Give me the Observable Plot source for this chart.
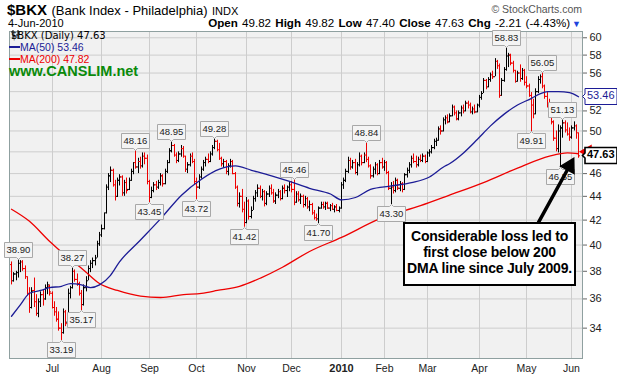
<!DOCTYPE html>
<html><head><meta charset="utf-8">
<script src="https://cdn.jsdelivr.net/npm/d3@7"></script>
<script src="https://cdn.jsdelivr.net/npm/@observablehq/plot@0.6"></script>
<style>
body{margin:0;background:#fff;}
#wrap{position:relative;width:617px;height:380px;overflow:hidden;font-family:"Liberation Sans",Arial,sans-serif;color:#000;}
#wrap svg{position:absolute;left:0;top:0;}
.ov{position:absolute;white-space:nowrap;}
g[aria-label="tip"] path{filter:none !important;}
</style></head><body><div id="wrap"></div>
<script>
// ---- data, one value per trading day, 5-Jun-2009 .. 4-Jun-2010 ----
const open = [38.5,37.3,37.8,37.9,38.6,38.7,38.2,37.6,36.4,35.4,36.6,35.8,35.0,35.8,36.3,36.0,36.8,36.9,36.4,35.4,35.1,34.6,34.0,33.7,35.1,34.4,36.4,36.8,38.0,37.4,37.1,36.4,35.6,36.8,37.3,38.2,38.6,38.8,39.0,40.1,40.8,41.3,42.6,44.8,45.8,46.3,45.0,44.0,45.4,45.7,44.3,45.2,44.6,45.4,46.2,47.0,46.6,47.1,46.7,47.6,47.4,45.3,43.9,44.5,45.0,44.8,45.2,45.8,45.1,46.2,47.0,48.1,48.6,47.7,47.2,47.8,48.3,47.6,46.4,46.8,47.6,47.1,45.3,44.8,45.7,46.4,47.0,47.3,47.1,47.8,48.4,49.0,48.2,47.4,46.9,47.1,46.2,46.7,47.1,46.0,44.8,43.4,44.0,42.9,41.8,43.6,42.3,42.8,43.8,44.3,44.7,44.0,44.4,43.4,44.2,44.7,44.3,43.6,44.1,44.4,43.8,44.7,44.5,44.8,45.0,44.6,43.5,44.2,43.7,44.0,43.3,43.8,43.1,43.3,42.6,42.2,42.1,43.0,43.3,43.1,43.4,43.0,43.2,42.9,43.1,42.8,43.0,45.0,45.4,46.2,47.2,46.6,47.0,46.1,46.8,47.6,47.0,47.7,47.3,46.7,45.8,46.4,46.8,46.0,47.0,46.6,47.0,46.1,44.7,44.8,44.5,45.4,44.7,45.1,44.6,45.9,46.3,46.8,47.4,47.1,46.8,47.3,47.2,47.6,47.1,47.9,48.0,48.4,49.0,49.1,50.2,50.0,51.1,51.3,50.9,51.5,52.4,51.8,51.2,51.8,52.3,52.0,52.8,52.6,51.9,52.2,51.9,52.6,53.4,53.8,55.2,54.5,55.3,55.8,55.6,57.3,56.8,53.6,55.2,56.4,57.9,58.0,57.1,56.3,55.1,56.0,55.4,56.3,55.0,54.6,53.6,52.6,51.7,54.0,55.3,55.6,54.6,53.5,52.6,51.8,50.9,49.3,48.3,50.0,50.3,50.8,50.1,49.7,49.4,50.3,50.5,49.82];
const high = [38.7,37.9,38.0,38.9,38.8,38.8,38.4,37.6,36.8,36.8,37.5,36.3,36.0,36.5,36.6,37.0,37.2,37.0,36.5,35.8,35.4,35.1,34.3,35.3,35.2,36.7,36.9,38.27,38.1,37.8,37.2,36.6,37.0,37.6,38.4,38.8,39.0,39.2,40.3,41.0,41.6,42.6,45.0,46.0,46.6,46.4,45.4,45.6,45.9,45.8,45.4,45.6,45.6,46.4,47.0,48.16,47.4,47.5,47.9,47.9,47.7,45.4,44.8,45.2,45.3,45.4,46.0,45.9,46.4,47.2,48.3,48.95,48.7,47.9,48.0,48.6,48.5,47.6,47.0,47.8,47.9,47.3,45.6,45.9,46.6,47.2,47.5,47.8,48.0,48.6,49.28,49.1,48.8,47.5,47.3,47.2,46.9,47.3,47.2,46.1,44.9,44.3,44.6,43.5,43.9,43.7,43.1,44.0,44.5,45.0,44.9,44.6,44.5,44.4,44.9,45.0,44.6,44.3,44.6,44.5,44.9,45.0,44.9,45.2,45.3,45.46,44.4,44.4,44.2,44.1,44.0,43.9,43.6,43.4,42.8,42.5,43.1,43.5,43.5,43.5,43.5,43.3,43.4,43.2,43.3,43.1,45.2,45.6,46.4,47.5,47.4,47.2,47.3,47.0,47.9,47.7,47.9,48.84,47.5,46.8,46.6,47.0,46.9,47.2,47.4,47.2,47.1,46.2,45.2,45.3,45.6,45.5,45.3,45.2,46.0,46.5,47.0,47.6,47.8,47.6,47.5,47.7,47.8,47.7,48.0,48.2,48.6,49.2,49.3,50.4,50.5,51.3,51.5,51.6,51.7,52.6,52.5,52.0,52.0,52.5,52.6,53.0,53.0,52.8,52.4,52.6,52.7,53.6,54.0,55.4,55.3,55.5,56.0,56.2,57.6,57.4,57.0,55.4,56.6,58.83,58.2,58.1,57.3,56.3,56.2,56.9,56.5,56.4,55.6,54.8,53.9,53.2,54.3,55.6,55.8,56.05,54.7,53.9,53.2,52.2,51.0,50.0,50.6,50.5,51.13,51.0,50.8,50.3,50.5,50.9,50.6,49.82];
const low = [37.0,37.2,37.3,37.5,37.9,38.0,37.4,36.2,35.0,35.3,35.4,34.8,34.7,35.4,35.5,35.9,36.3,36.2,35.3,34.8,34.4,33.8,33.19,33.6,34.1,34.3,36.0,36.7,37.2,36.9,36.2,35.17,35.5,36.5,37.3,37.9,38.2,38.4,39.0,39.9,40.6,41.2,42.5,44.5,45.2,44.8,43.6,43.9,44.9,44.0,44.0,44.2,44.5,45.3,45.9,46.4,46.0,46.4,46.5,46.8,45.0,43.45,43.8,44.3,44.5,44.6,44.9,44.8,45.0,46.0,46.9,47.9,47.5,46.9,47.0,47.5,47.4,46.1,46.0,46.6,46.9,45.0,43.72,44.6,45.5,46.2,46.6,46.9,47.0,47.6,48.2,48.0,47.2,46.6,46.5,45.9,45.8,46.5,45.9,44.6,43.1,43.0,42.6,41.42,41.7,42.0,42.1,42.8,43.5,43.9,43.8,43.6,43.1,43.2,43.9,44.1,43.4,43.3,43.8,43.6,43.7,44.2,43.9,44.4,44.3,43.2,43.4,43.5,43.3,43.0,43.1,42.9,42.7,42.4,42.0,41.9,41.70,42.9,42.9,42.8,42.9,42.7,42.8,42.6,42.7,42.6,42.9,44.6,45.2,46.0,46.3,46.4,45.9,45.8,46.6,46.7,46.9,47.0,46.5,45.5,45.6,45.9,45.8,45.9,46.4,46.2,45.9,44.5,43.30,44.2,44.3,44.5,44.4,44.3,44.5,45.6,46.0,46.5,46.9,46.5,46.6,47.0,47.0,46.9,47.0,47.5,47.8,48.2,48.5,49.0,49.6,49.9,50.6,50.7,50.8,51.4,51.5,51.0,51.0,51.4,51.7,51.9,52.2,51.7,51.6,51.7,51.8,52.3,53.1,53.8,54.2,54.4,55.0,55.3,55.6,56.4,53.3,53.5,55.0,56.2,56.6,56.8,56.0,54.9,55.0,55.0,55.2,54.6,54.3,53.4,49.91,51.2,51.6,53.8,54.8,54.3,53.2,52.3,51.5,50.6,49.0,48.0,47.9,46.55,49.3,49.8,49.5,49.0,49.2,50.0,49.2,47.40];
const close = [37.3,37.8,37.9,38.6,38.7,38.2,37.6,36.4,35.4,36.5,35.7,35.0,35.8,36.3,35.9,36.8,37.0,36.5,35.5,35.2,34.6,34.0,33.6,35.1,34.3,36.5,36.7,38.0,37.4,37.1,36.5,35.6,36.8,37.3,38.2,38.6,38.8,39.0,40.1,40.8,41.3,42.4,44.8,45.8,46.3,45.0,44.0,45.4,45.7,44.3,45.2,44.5,45.4,46.2,46.8,46.6,47.1,46.7,47.6,47.4,45.3,43.9,44.5,45.0,44.8,45.2,45.8,45.1,46.2,47.0,48.1,48.6,47.7,47.2,47.8,48.3,47.6,46.4,46.8,47.6,47.1,45.3,44.8,45.7,46.4,47.0,47.3,47.1,47.8,48.4,49.0,48.2,47.4,46.9,47.1,46.2,46.7,47.1,46.0,44.8,43.4,44.0,42.9,41.8,43.6,42.3,42.8,43.8,44.3,44.7,44.0,44.4,43.4,44.2,44.7,44.3,43.6,44.1,44.4,43.8,44.7,44.5,44.8,45.0,44.6,43.5,44.2,43.7,44.0,43.3,43.8,43.1,43.3,42.6,42.2,42.1,43.0,43.3,43.1,43.4,43.0,43.2,42.9,43.1,42.8,42.9,45.0,45.4,46.2,47.2,46.6,47.0,46.1,46.8,47.6,47.0,47.7,47.3,46.7,45.8,46.4,46.8,46.0,47.0,46.6,47.0,46.1,44.7,44.8,44.5,45.4,44.7,45.1,44.6,45.9,46.3,46.8,47.4,47.1,46.8,47.3,47.2,47.6,47.1,47.9,48.0,48.4,49.0,49.1,50.2,50.0,51.1,51.3,50.9,51.5,52.4,51.8,51.2,51.8,52.3,52.0,52.8,52.6,51.9,52.2,51.9,52.6,53.4,53.8,55.2,54.5,55.3,55.8,55.6,57.3,56.8,53.6,55.2,56.4,57.9,58.0,57.1,56.3,55.1,56.0,55.4,56.3,54.8,54.6,53.6,52.6,51.7,54.0,55.3,55.6,54.6,53.5,52.6,51.8,50.9,49.3,48.3,50.2,50.3,50.8,50.1,49.7,49.4,50.3,50.6,49.84,47.63];

const ma50Idx = [0,4,8,13,17,22,26,31,35,39,44,48,57,66,75,84,92,99,106,115,123,132,141,146,152,159,168,177,185,191,194,200,206,212,218,224,230,234,237,242,247,251];
const ma50Val = [34.8,35.6,36.4,36.6,36.8,36.9,37.1,37.0,36.8,37.0,37.7,38.7,40.4,42.1,44.1,45.5,46.4,46.7,46.3,45.8,45.3,44.7,44.2,43.7,43.9,44.6,44.9,45.2,45.7,46.6,46.9,47.9,49.2,50.5,51.7,52.6,53.3,53.8,54.0,54.0,53.9,53.46];
const ma200Idx = [0,8,17,25,32,39,47,57,66,76,84,91,101,110,120,132,146,163,181,194,209,224,238,246,251];
const ma200Val = [42.9,41.9,40.3,39.0,38.1,37.1,36.6,36.2,36.1,36.3,36.4,36.6,36.9,37.5,38.3,39.5,40.6,42.1,43.2,44.1,45.2,46.5,47.6,47.9,47.82];

// x-axis: first trading day of each month, and its label
const monthStart = [18,40,61,82,104,124,146,165,184,207,228,248];
const monthLabel = ["Jul","Aug","Sep","Oct","Nov","Dec","2010","Feb","Mar","Apr","May","Jun"];
const yGrid = [34,36,38,40,42,44,46,48,50,52,54,56,58,60];
const yLabels = [34,36,38,40,42,44,46,50,52,56,58,60]; // 48 and 54 sit under the last-value boxes

// labelled highs and lows
const highIdx = [3,27,55,71,90,125,157,219,235,244];
const lowIdx = [22,31,61,82,103,136,168,230,243];

// annotation
const noteLines = ["Considerable loss led to","first close below 200","DMA line since July 2009."];
const arrowIdx = [233.2, 246.8];
const arrowVal = [41.81, 46.69];

const lastMA50 = 53.46, lastMA200 = 47.82, prevClose = 49.84;

// ---- build ----
const bars = open.map((o, i) => ({i, open: o, high: high[i], low: low[i], close: close[i],
  up: i === 0 ? close[i] >= o : close[i] >= close[i - 1]}));
const upBars = bars.filter(d => d.up), dnBars = bars.filter(d => !d.up);
const ma50 = ma50Idx.map((i, k) => ({i, v: ma50Val[k]}));
const ma200 = ma200Idx.map((i, k) => ({i, v: ma200Val[k]}));
const highs = highIdx.map(i => ({i, v: high[i]}));
const lows = lowIdx.map(i => ({i, v: low[i]}));
const xMax = 252.65;
const last = bars[bars.length - 1];
const BLK = "#000", RED = "#ee0000", NAVY = "#1c1c96";

function ohlc(data, color) {
  return [
    Plot.ruleX(data, {x: "i", y1: "low", y2: "high", stroke: color, strokeWidth: 1}),
    Plot.ruleY(data, {y: "open", x1: d => d.i - 0.6, x2: "i", stroke: color, strokeWidth: 1}),
    Plot.ruleY(data, {y: "close", x1: "i", x2: d => d.i + 0.6, stroke: color, strokeWidth: 1})
  ];
}

const chart = Plot.plot({
  width: 617, height: 380,
  marginTop: 31, marginRight: 35, marginBottom: 22, marginLeft: 9,
  style: {fontFamily: "Liberation Sans, Arial, sans-serif", fontSize: "11px", color: "#222", background: "transparent"},
  x: {domain: [-0.885, xMax], round: true, axis: null},
  y: {type: "log", domain: [32.04, 60.74], axis: null},
  marks: [
    Plot.frame({fill: "#f1f1f1", stroke: null}),
    Plot.ruleX(monthStart, {stroke: "#cdcdcd", strokeWidth: 1}),
    Plot.ruleY(yGrid, {stroke: "#cdcdcd", strokeWidth: 1}),
    ...ohlc(upBars, BLK),
    ...ohlc(dnBars, RED),
    Plot.line(ma200, {x: "i", y: "v", stroke: RED, strokeWidth: 1.3, curve: "monotone-x"}),
    Plot.line(ma50, {x: "i", y: "v", stroke: NAVY, strokeWidth: 1.3, curve: "monotone-x"}),
    Plot.frame({stroke: "#8fa0a0", strokeWidth: 1}),
    Plot.axisY({ticks: yLabels, anchor: "right", tickSize: 4, tickPadding: 3, fontSize: 11, tickFormat: d => String(d), label: null, stroke: "#666"}),
    Plot.axisX({ticks: monthStart.filter((d, k) => monthLabel[k] !== "2010"), tickSize: 0, tickPadding: 6, fontSize: 10.5,
      tickFormat: d => monthLabel[monthStart.indexOf(d)], label: null}),
    Plot.axisX({ticks: monthStart.filter((d, k) => monthLabel[k] === "2010"), tickSize: 0, tickPadding: 6, fontSize: 11, fontWeight: "bold",
      tickFormat: d => monthLabel[monthStart.indexOf(d)], label: null}),
    Plot.tip(highs, {x: "i", y: "v", title: d => d.v.toFixed(2), anchor: "bottom", pointerSize: 4, textPadding: 2,
      fontSize: 9.5, fill: "#f4f4f4", stroke: "#a8a8a8", pathFilter: "none"}),
    Plot.tip(lows, {x: "i", y: "v", title: d => d.v.toFixed(2), anchor: "top", pointerSize: 4, textPadding: 2,
      fontSize: 9.5, fill: "#f4f4f4", stroke: "#a8a8a8", pathFilter: "none"}),
    Plot.line(arrowIdx.map((i, k) => ({i, v: arrowVal[k]})), {x: "i", y: "v", stroke: "#000", strokeWidth: 3.5}),
    Plot.dot([{i: arrowIdx[1], v: arrowVal[1]}], {x: "i", y: "v", symbol: "triangle", r: 5.6, fill: "#000", stroke: "#000", rotate: 29}),
    Plot.dot([{i: xMax, v: lastMA200}], {x: "i", y: "v", dx: 5, dy: -2, symbol: "triangle", r: 4.5, fill: RED, stroke: RED, rotate: -90}),
    Plot.tip([{i: xMax, v: lastMA50}], {x: "i", y: "v", title: d => d.v.toFixed(2), anchor: "left", pointerSize: 5, textPadding: 2,
      fontSize: 11, fill: "#fff", stroke: NAVY, pathFilter: "none"}),
    Plot.tip([{i: xMax, v: last.close}], {x: "i", y: "v", title: d => d.v.toFixed(2), anchor: "left", pointerSize: 5, textPadding: 2,
      fontSize: 11, fontWeight: "bold", fill: "#fff", stroke: "#000", strokeWidth: 1.6, pathFilter: "none"})
  ]
});

const wrap = document.getElementById("wrap");
wrap.appendChild(chart);
const tips = chart.querySelectorAll('g[aria-label="tip"]');
const tipSizes = ["9.5px", "9.5px", "11px", "11px"];
tips.forEach((g, k) => {
  g.querySelectorAll("text").forEach(t => {
    // flatten the single tspan into its text element so the label is a plain sized text
    const spans = t.querySelectorAll("tspan");
    if (spans.length === 1) {
      const s = spans[0];
      for (const a of ["x", "y", "dx", "dy"]) {
        const v = s.getAttribute(a);
        if (v != null && t.getAttribute(a) == null) t.setAttribute(a, v);
      }
      const txt = s.textContent;
      t.textContent = txt;
    }
    t.setAttribute("font-size", tipSizes[k] || "10px");
    t.setAttribute("font-family", "Liberation Sans, Arial, sans-serif");
  });
});
if (tips.length >= 4) {
  tips[0].style.color = "#222"; tips[1].style.color = "#222";
  tips[2].style.color = NAVY; tips[3].style.color = "#000";
}

// ---- header, legend and note (text overlays) ----
function ov(html, css) { const d = document.createElement("div"); d.className = "ov"; d.style.cssText = css; d.innerHTML = html; wrap.appendChild(d); return d; }
const chg = last.close - prevClose;
ov(`<b style="font-size:15px">$BKX</b> <span style="font-size:13px">(Bank Index - Philadelphia)</span> <span style="font-size:11px">INDX</span>`, "left:7px;top:1px;line-height:18px;");
ov(`4-Jun-2010`, "left:8px;top:17px;font-size:11px;line-height:13px;");
ov(`© StockCharts.com`, "right:35px;top:3px;font-size:10.5px;color:#555;line-height:12px;");
ov(`<b>Open</b> ${last.open.toFixed(2)} <b>High</b> ${last.high.toFixed(2)} <b>Low</b> ${last.low.toFixed(2)} <b>Close</b> ${last.close.toFixed(2)} <b>Chg</b> ${chg.toFixed(2)} (${(chg / prevClose * 100).toFixed(2)}%)<span style="color:#2244dd;font-size:9px;margin-left:2px">▼</span>`,
  "right:36px;top:16px;font-size:11.6px;line-height:14px;word-spacing:1px;");
ov(`<svg width="10" height="9" style="vertical-align:-1px"><path d="M2 0V9M0 2H2M2 6H4M7 0V9M5 5H7M7 3H9" stroke="#000" fill="none"/></svg> $BKX (Daily) ${last.close.toFixed(2)}`,
  "left:11px;top:30px;font-family:'DejaVu Sans';font-size:10px;line-height:12px;");
ov(`<span style="display:inline-block;width:11px;height:2px;background:${NAVY};vertical-align:3px"></span>MA(50) ${lastMA50.toFixed(2)}`,
  `left:9px;top:42px;font-size:10.5px;line-height:10px;color:${NAVY};`);
ov(`<span style="display:inline-block;width:11px;height:2px;background:${RED};vertical-align:3px"></span>MA(200) ${lastMA200.toFixed(2)}`,
  `left:9px;top:53.5px;font-size:10.5px;line-height:10px;color:${RED};`);
ov(`www.CANSLIM.net`, "left:9px;top:64px;font-size:14.5px;font-weight:bold;color:#0a8a0a;line-height:14px;");
ov(noteLines.join("<br>"), "left:403px;top:222px;width:169px;height:56px;border:2px solid #000;background:#fff;text-align:center;font-size:14px;font-weight:bold;line-height:16px;padding-top:4px;letter-spacing:-0.2px;");
</script></body></html>
